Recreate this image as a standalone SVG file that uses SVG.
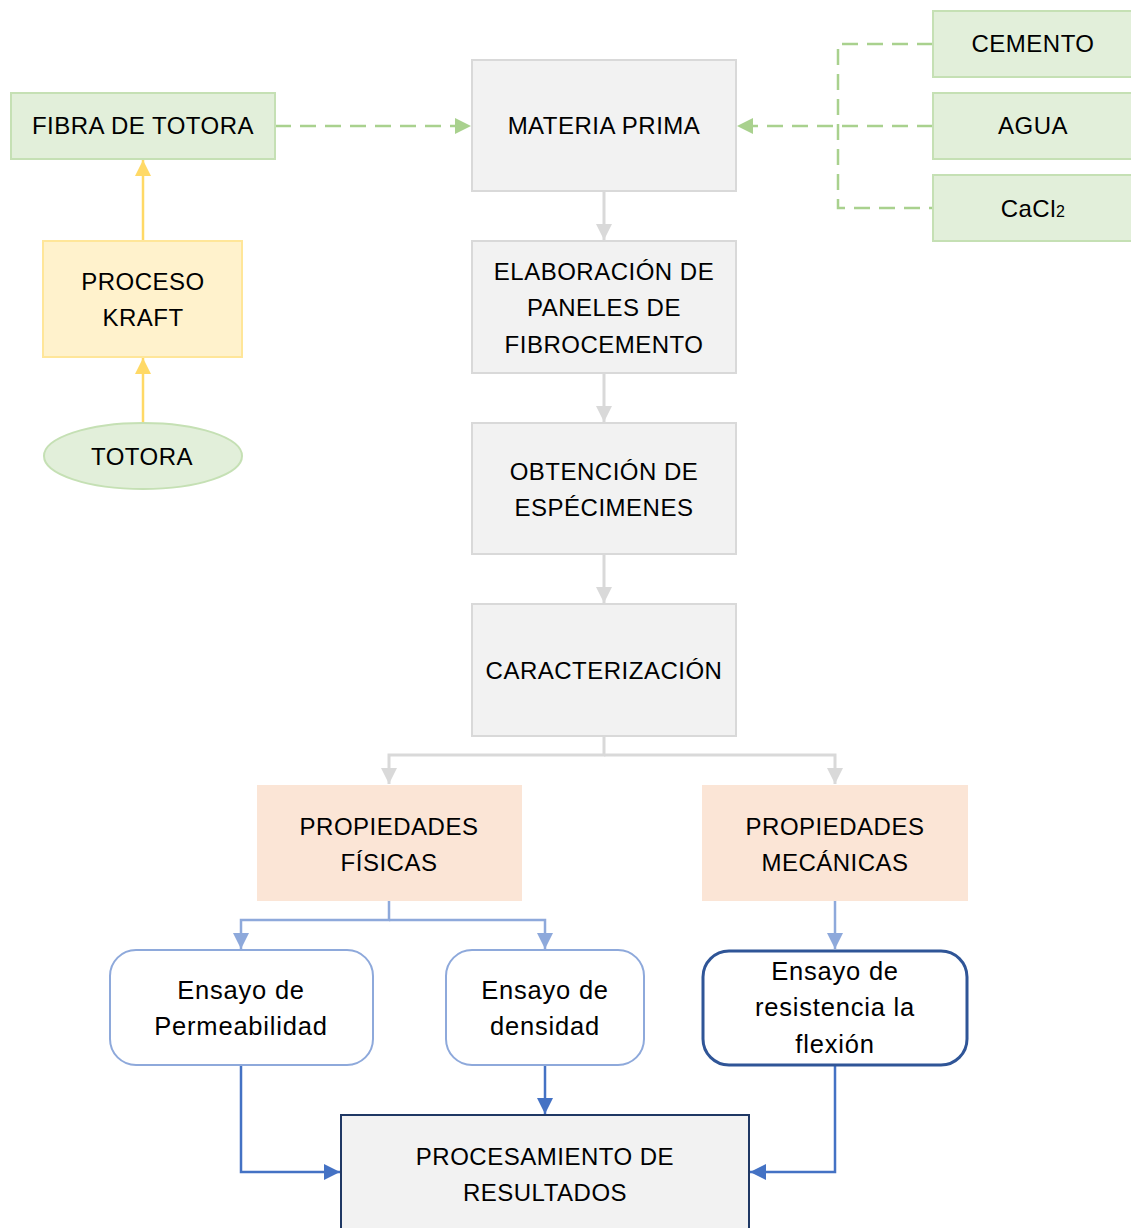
<svg xmlns="http://www.w3.org/2000/svg" width="1131" height="1228" viewBox="0 0 1131 1228">
<style>
text{font-family:"Liberation Sans",Arial,sans-serif;font-size:24px;fill:#000;text-anchor:middle;letter-spacing:0.5px}
text.lc{font-size:25.5px;letter-spacing:0.8px}
.green{fill:#E2EFDA;stroke:#C5E0B4;stroke-width:2}
.gray{fill:#F2F2F2;stroke:#D9D9D9;stroke-width:2}
.yellow{fill:#FFF2CC;stroke:#FFE699;stroke-width:2}
.peach{fill:#FBE5D6;stroke:none}
.rr{fill:#fff;stroke:#8EA9DB;stroke-width:2}
.dash{fill:none;stroke:#A9D18E;stroke-width:2.5;stroke-dasharray:16 9}
.cg{fill:none;stroke:#D9D9D9;stroke-width:3}
.cy{fill:none;stroke:#FFD966;stroke-width:2.5}
.cl{fill:none;stroke:#8EA9DB;stroke-width:2.5}
.cb{fill:none;stroke:#4472C4;stroke-width:2.5}
</style>
<defs>
<marker id="ag" markerUnits="userSpaceOnUse" markerWidth="18" markerHeight="18" refX="16" refY="8" orient="auto"><path d="M0,0 L16,8 L0,16 Z" fill="#D9D9D9"/></marker>
<marker id="agr" markerUnits="userSpaceOnUse" markerWidth="18" markerHeight="18" refX="16" refY="8" orient="auto"><path d="M0,0 L16,8 L0,16 Z" fill="#A9D18E"/></marker>
<marker id="ay" markerUnits="userSpaceOnUse" markerWidth="18" markerHeight="18" refX="16" refY="8" orient="auto"><path d="M0,0 L16,8 L0,16 Z" fill="#FFD966"/></marker>
<marker id="al" markerUnits="userSpaceOnUse" markerWidth="18" markerHeight="18" refX="16" refY="8" orient="auto"><path d="M0,0 L16,8 L0,16 Z" fill="#8EA9DB"/></marker>
<marker id="ab" markerUnits="userSpaceOnUse" markerWidth="18" markerHeight="18" refX="16" refY="8" orient="auto"><path d="M0,0 L16,8 L0,16 Z" fill="#4472C4"/></marker>
</defs>
<rect width="1131" height="1228" fill="#fff"/>
<g id="connectors">
<path class="dash" d="M275,126 H471" marker-end="url(#agr)"/>
<path class="dash" d="M933,126 H737" marker-end="url(#agr)"/>
<path class="dash" d="M933,44 H838 V208 H933"/>
<path class="cy" d="M143,241 V160" marker-end="url(#ay)"/>
<path class="cy" d="M143,422 V358" marker-end="url(#ay)"/>
<path class="cg" d="M604,191 V240" marker-end="url(#ag)"/>
<path class="cg" d="M604,373 V422" marker-end="url(#ag)"/>
<path class="cg" d="M604,554 V603" marker-end="url(#ag)"/>
<path class="cg" d="M604,736 V755 H389 V784" marker-end="url(#ag)"/>
<path class="cg" d="M604,755 H835 V784" marker-end="url(#ag)"/>
<path class="cl" d="M389,901 V920 H241 V949" marker-end="url(#al)"/>
<path class="cl" d="M389,920 H545 V949" marker-end="url(#al)"/>
<path class="cl" d="M835,901 V949" marker-end="url(#al)"/>
<path class="cb" d="M241,1065 V1172 H340" marker-end="url(#ab)"/>
<path class="cb" d="M545,1065 V1114" marker-end="url(#ab)"/>
<path class="cb" d="M835,1066 V1172 H750" marker-end="url(#ab)"/>
</g>
<g id="fibra"><rect class="green" x="11" y="93" width="264" height="66"/><text x="143" y="134">FIBRA DE TOTORA</text></g>
<g id="materia"><rect class="gray" x="472" y="60" width="264" height="131"/><text x="604" y="134">MATERIA PRIMA</text></g>
<g id="cemento"><rect class="green" x="933" y="11" width="205" height="66"/><text x="1033" y="52">CEMENTO</text></g>
<g id="agua"><rect class="green" x="933" y="93" width="205" height="66"/><text x="1033" y="134">AGUA</text></g>
<g id="cacl2"><rect class="green" x="933" y="175" width="205" height="66"/><text x="1033" y="217">CaCl<tspan font-size="16">2</tspan></text></g>
<g id="kraft"><rect class="yellow" x="43" y="241" width="199" height="116"/><text x="143" y="290">PROCESO</text><text x="143" y="326">KRAFT</text></g>
<g id="totora"><ellipse cx="143" cy="456" rx="99" ry="33" class="green"/><text x="142" y="465">TOTORA</text></g>
<g id="elaboracion"><rect class="gray" x="472" y="241" width="264" height="132"/><text x="604" y="280">ELABORACIÓN DE</text><text x="604" y="316">PANELES DE</text><text x="604" y="353">FIBROCEMENTO</text></g>
<g id="obtencion"><rect class="gray" x="472" y="423" width="264" height="131"/><text x="604" y="480">OBTENCIÓN DE</text><text x="604" y="516">ESPÉCIMENES</text></g>
<g id="caracterizacion"><rect class="gray" x="472" y="604" width="264" height="132"/><text x="604" y="679">CARACTERIZACIÓN</text></g>
<g id="fisicas"><rect class="peach" x="257" y="785" width="265" height="116"/><text x="389" y="835">PROPIEDADES</text><text x="389" y="871">FÍSICAS</text></g>
<g id="mecanicas"><rect class="peach" x="702" y="785" width="266" height="116"/><text x="835" y="835">PROPIEDADES</text><text x="835" y="871">MECÁNICAS</text></g>
<g id="permeabilidad"><rect class="rr" x="110" y="950" width="263" height="115" rx="26"/><text class="lc" x="241" y="999">Ensayo de</text><text class="lc" x="241" y="1035">Permeabilidad</text></g>
<g id="densidad"><rect class="rr" x="446" y="950" width="198" height="115" rx="26"/><text class="lc" x="545" y="999">Ensayo de</text><text class="lc" x="545" y="1035">densidad</text></g>
<g id="flexion"><rect x="703" y="951" width="264" height="114" rx="26" fill="#fff" stroke="#2F5597" stroke-width="3"/><text class="lc" x="835" y="980">Ensayo de</text><text class="lc" x="835" y="1016">resistencia la</text><text class="lc" x="835" y="1053">flexión</text></g>
<g id="procesamiento"><rect x="341" y="1115" width="408" height="125" fill="#F2F2F2" stroke="#1F3864" stroke-width="2"/><text x="545" y="1165">PROCESAMIENTO DE</text><text x="545" y="1201">RESULTADOS</text></g>
</svg>
